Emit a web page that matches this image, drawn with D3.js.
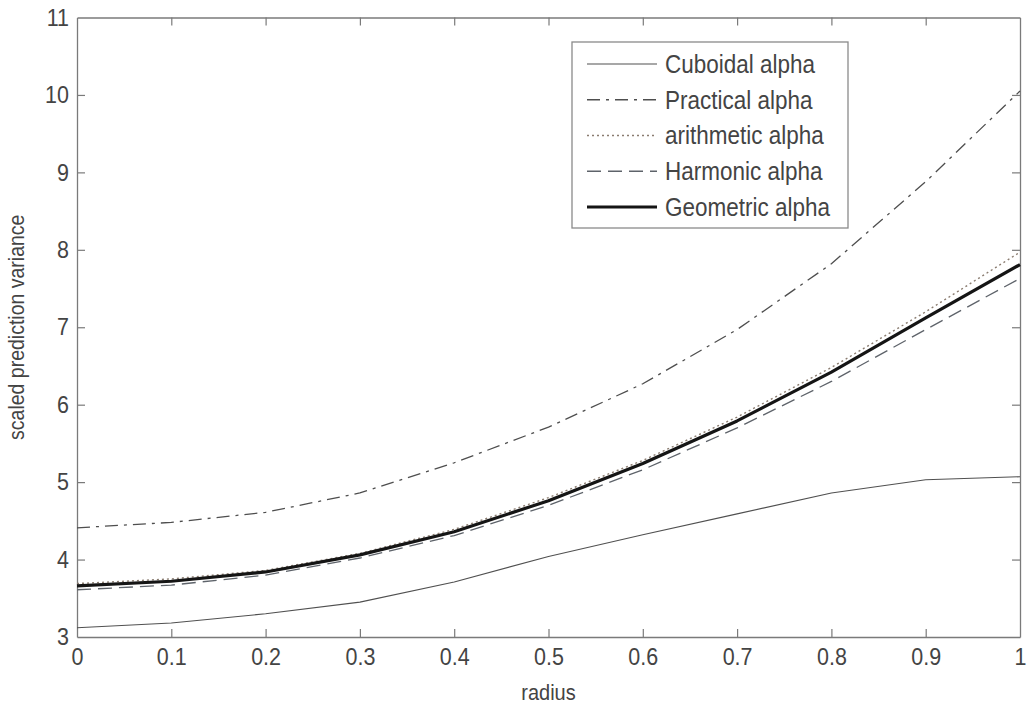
<!DOCTYPE html>
<html>
<head>
<meta charset="utf-8">
<script src="https://cdn.jsdelivr.net/npm/d3@7"></script>
<style>
  html, body { margin: 0; padding: 0; background: #fff; }
  svg text { font-family: "Liberation Sans", Arial, sans-serif; fill: #444; }
</style>
</head>
<body>
<svg id="chart" width="1034" height="706"></svg>
<script>
// Radius grid for the scaled prediction variance profiles
const radius = [0, 0.1, 0.2, 0.3, 0.4, 0.5, 0.6, 0.7, 0.8, 0.9, 1.0];

const cuboidal   = [3.12, 3.18, 3.30, 3.45, 3.71, 4.04, 4.32, 4.59, 4.86, 5.03, 5.07];
const practical  = [4.41, 4.48, 4.61, 4.86, 5.25, 5.71, 6.27, 6.97, 7.82, 8.88, 10.05];
const arithmetic = [3.69, 3.75, 3.86, 4.08, 4.39, 4.80, 5.28, 5.84, 6.48, 7.20, 7.97];
const harmonic   = [3.61, 3.67, 3.80, 4.02, 4.31, 4.70, 5.16, 5.70, 6.30, 6.97, 7.63];
const geometric  = [3.66, 3.72, 3.84, 4.06, 4.36, 4.76, 5.24, 5.79, 6.42, 7.12, 7.81];

const seriesNames = ["Cuboidal alpha", "Practical alpha", "arithmetic alpha", "Harmonic alpha", "Geometric alpha"];

const xTicks = [0, 0.1, 0.2, 0.3, 0.4, 0.5, 0.6, 0.7, 0.8, 0.9, 1];
const yTicks = [3, 4, 5, 6, 7, 8, 9, 10, 11];

const series = [
  { name: seriesNames[0], values: cuboidal,   stroke: "#505050", width: 1.1, dash: null },
  { name: seriesNames[1], values: practical,  stroke: "#4e4e4e", width: 1.3, dash: "13,6,3,6" },
  { name: seriesNames[2], values: arithmetic, stroke: "#8a7c70", width: 1.4, dash: "2,3" },
  { name: seriesNames[3], values: harmonic,   stroke: "#5e636a", width: 1.3, dash: "14,7" },
  { name: seriesNames[4], values: geometric,  stroke: "#151515", width: 3.2, dash: null }
];

const svg = d3.select("#chart");
const plotLeft = 77, plotRight = 1020, plotTop = 17.5, plotBottom = 637;
const textStretch = 1.12;   // slightly tall lettering

const x = d3.scaleLinear().domain([0, 1]).range([plotLeft, plotRight]);
const y = d3.scaleLinear().domain([3, 11]).range([plotBottom, plotTop]);

const tickLen = 8;
const axisColor = "#7a7a7a";

// Bottom and top axes (ticks pointing inward)
const gx = svg.append("g").attr("transform", `translate(0,${plotBottom})`)
  .call(d3.axisBottom(x).tickValues(xTicks).tickFormat(d3.format("~g")).tickSizeInner(-tickLen).tickSizeOuter(0).tickPadding(10));
const gxt = svg.append("g").attr("transform", `translate(0,${plotTop})`)
  .call(d3.axisTop(x).tickValues(xTicks).tickFormat("").tickSizeInner(-tickLen).tickSizeOuter(0));

// Left and right axes
const gy = svg.append("g").attr("transform", `translate(${plotLeft},0)`)
  .call(d3.axisLeft(y).tickValues(yTicks).tickFormat(d3.format("d")).tickSizeInner(-tickLen).tickSizeOuter(0).tickPadding(8));
const gyr = svg.append("g").attr("transform", `translate(${plotRight},0)`)
  .call(d3.axisRight(y).tickValues(yTicks).tickFormat("").tickSizeInner(-tickLen).tickSizeOuter(0));

[gx, gxt, gy, gyr].forEach(g => {
  g.select(".domain").attr("stroke", axisColor).attr("stroke-width", 1.3);
  g.selectAll(".tick line").attr("stroke", axisColor).attr("stroke-width", 1.2);
  g.selectAll(".tick text").attr("font-size", 21.5).attr("fill", "#444")
    .attr("font-family", "'Liberation Sans', Arial, sans-serif")
    .attr("transform", `scale(1,${textStretch})`);
});
// hide endpoint tick marks that coincide with the frame
gx.selectAll(".tick line").filter(d => d === 0 || d === 1).remove();
gxt.selectAll(".tick line").filter(d => d === 0 || d === 1).remove();
gy.selectAll(".tick line").filter(d => d === 3 || d === 11).remove();
gyr.selectAll(".tick line").filter(d => d === 3 || d === 11).remove();

// Axis titles
svg.append("text").attr("transform", `translate(${(plotLeft + plotRight) / 2},700) scale(1,${textStretch})`)
  .attr("text-anchor", "middle").attr("font-size", 20).text("radius");
svg.append("text").attr("transform", `translate(24,${(plotTop + plotBottom) / 2}) rotate(-90) scale(1,${textStretch})`)
  .attr("text-anchor", "middle").attr("font-size", 19.5).text("scaled prediction variance");

// Series lines
const line = d3.line().x((d, i) => x(radius[i])).y(d => y(d));
const plot = svg.append("g");
series.forEach(s => {
  plot.append("path").datum(s.values)
    .attr("d", line)
    .attr("fill", "none")
    .attr("stroke", s.stroke)
    .attr("stroke-width", s.width)
    .attr("stroke-dasharray", s.dash)
    .attr("stroke-linejoin", "round");
});

// Legend
const lg = svg.append("g");
lg.append("rect").attr("x", 572).attr("y", 42).attr("width", 276).attr("height", 186)
  .attr("fill", "#fff").attr("stroke", "#8a8a8a").attr("stroke-width", 1.3);
const rowY = d3.scalePoint().domain(seriesNames).range([64, 207]);
series.forEach(s => {
  const yy = rowY(s.name);
  lg.append("line").attr("x1", 587).attr("x2", 657).attr("y1", yy).attr("y2", yy)
    .attr("stroke", s.stroke).attr("stroke-width", s.width).attr("stroke-dasharray", s.dash);
  lg.append("text").attr("transform", `translate(665,${yy}) scale(1,${textStretch})`)
    .attr("dy", "0.35em").attr("font-size", 22.5).text(s.name);
});
</script>
</body>
</html>
